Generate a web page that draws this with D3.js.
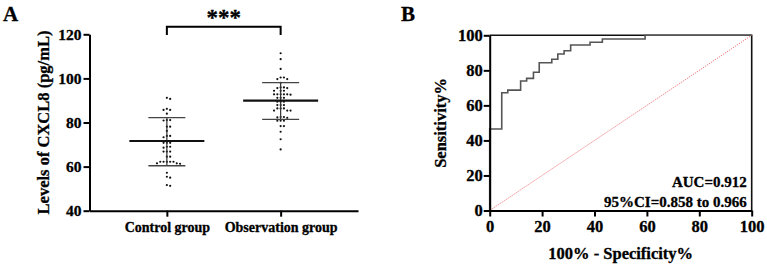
<!DOCTYPE html>
<html>
<head>
<meta charset="utf-8">
<script src="https://cdn.jsdelivr.net/npm/d3@7"></script>
<style>
  body { margin: 0; background: #fff; }
  svg text { font-family: "Liberation Serif", "Times New Roman", serif; font-weight: bold; fill: #000; stroke: #000; stroke-width: 0.3px; }
</style>
</head>
<body>
<div id="chart"></div>
<script>
// panel A: CXCL8 levels by group
const groups = ["Control group", "Observation group"]
const controlValues = [91.2, 90.7, 86.2, 85.7, 85.7, 84.0, 81.1, 81.1, 80.9, 78.1, 78.1, 76.2,
  73.9, 73.9, 73.3, 70.8, 70.8, 70.8, 69.0, 69.0, 68.6, 66.8, 66.8, 66.8, 64.5, 64.5,
  62.2, 62.2, 62.2, 62.2, 62.2, 61.5, 61.5, 61.3, 57.2, 55.4, 55.0, 51.6, 51.3]
const observationValues = [111.4, 108.7, 104.3, 100.4, 100.4, 99.7, 99.7, 98.0, 95.9, 95.9, 95.6, 95.6,
  94.4, 94.4, 94.4, 92.8, 92.8, 92.8, 92.8, 92.8, 92.6, 91.2, 91.2, 91.2, 89.4, 89.4, 89.4,
  87.9, 87.9, 87.9, 86.4, 86.4, 86.4, 85.4, 85.4, 85.4, 82.5, 82.5, 82.3, 82.1,
  80.8, 80.8, 80.8, 78.4, 78.4, 75.8, 72.4, 67.8]
const groupMeans = [71.6, 89.9]
const groupSDlow = [60.4, 81.4]
const groupSDhigh = [82.2, 98.1]
const yTicksA = [40, 60, 80, 100, 120]

// panel B: ROC curve (step corners)
const rocFpr = [0, 0, 4.6, 6.9, 11.8, 14.1, 16.7, 18.9, 23.7, 26.0, 28.4, 30.9, 38.3, 43.0, 59.3, 100]
const rocTpr = [0, 46.5, 67.2, 68.7, 73.9, 75.4, 78.9, 84.3, 86.3, 89.3, 91.2, 94.5, 96.0, 97.9, 100, 100]
const ticksB = [0, 20, 40, 60, 80, 100]
const aucText = ["AUC=0.912", "95%CI=0.858 to 0.966"]

const width = 767, height = 266

const svg = d3.select("#chart").append("svg")
  .attr("width", width)
  .attr("height", height)

// ---------- Panel A ----------
const A = { left: 89.5, right: 358, top: 34.3, bottom: 210.7 }

const xA = d3.scalePoint().domain(groups).range([A.left, A.right]).padding(0.68)
const yA = d3.scaleLinear().domain([40, 120]).range([A.bottom, A.top])

const gA = svg.append("g")

gA.append("g")
  .attr("transform", `translate(${A.left},0)`)
  .call(d3.axisLeft(yA).tickValues(yTicksA).tickSize(6).tickPadding(2).tickSizeOuter(0))
  .call(g => g.selectAll("text").style("font-size", "15.5px"))

gA.append("g")
  .attr("transform", `translate(0,${A.bottom})`)
  .call(d3.axisBottom(xA).tickSize(6).tickPadding(5).tickSizeOuter(0))
  .call(g => g.selectAll("text").style("font-size", "14px"))

gA.selectAll(".domain, .tick line").attr("stroke", "#000").attr("stroke-width", 2)

gA.append("text")
  .attr("transform", `translate(49,${(A.top + A.bottom) / 2}) rotate(-90)`)
  .attr("text-anchor", "middle")
  .style("font-size", "16.5px")
  .text("Levels of CXCL8 (pg/mL)")

// beeswarm offsets computed from the values
function swarm(values, spacing) {
  const placed = []
  const sorted = values.map(v => ({ v, y: yA(v) })).sort((a, b) => a.y - b.y)
  sorted.forEach(p => {
    for (let k = 0; k < 20; k++) {
      const off = (k % 2 === 1 ? 1 : -1) * Math.ceil(k / 2) * spacing
      const clash = placed.some(q => Math.hypot(q.dx - off, q.y - p.y) < spacing * 0.95)
      if (!clash) { p.dx = off; placed.push(p); break }
    }
  })
  return placed
}

const seriesA = [controlValues, observationValues]
seriesA.forEach((vals, i) => {
  const cx = xA(groups[i])
  const pts = swarm(vals, 3.3)
  gA.append("g").selectAll("circle")
    .data(pts)
    .join("circle")
      .attr("cx", d => cx + d.dx)
      .attr("cy", d => d.y)
      .attr("r", 1.1)
      .attr("fill", "#111")

  // SD bar
  gA.append("line")
    .attr("x1", cx).attr("x2", cx)
    .attr("y1", yA(groupSDlow[i])).attr("y2", yA(groupSDhigh[i]))
    .attr("stroke", "#333").attr("stroke-width", 1.2)
  ;[groupSDlow[i], groupSDhigh[i]].forEach(v => {
    gA.append("line")
      .attr("x1", cx - 18.5).attr("x2", cx + 18.5)
      .attr("y1", yA(v)).attr("y2", yA(v))
      .attr("stroke", "#444").attr("stroke-width", 1.4)
  })
  gA.append("line")
    .attr("x1", cx - 37.5).attr("x2", cx + 37.5)
    .attr("y1", yA(groupMeans[i])).attr("y2", yA(groupMeans[i]))
    .attr("stroke", "#111").attr("stroke-width", 2.2)
})

// significance bracket
const x0 = xA(groups[0]), x1 = xA(groups[1])
gA.append("path")
  .attr("d", `M${x0},35V26.7H${x1}V35`)
  .attr("fill", "none").attr("stroke", "#000").attr("stroke-width", 2)
gA.append("text")
  .attr("x", (x0 + x1) / 2).attr("y", 25)
  .attr("text-anchor", "middle")
  .style("font-size", "23px")
  .text("***")

svg.append("text").attr("x", 3).attr("y", 20.5).style("font-size", "21px").text("A")

// ---------- Panel B ----------
const B = { left: 489.7, right: 751.7, top: 35.3, bottom: 210.5 }
const xB = d3.scaleLinear().domain([0, 100]).range([B.left, B.right])
const yB = d3.scaleLinear().domain([0, 100]).range([B.bottom, B.top])

const gB = svg.append("g")

// frame top/right
gB.append("path")
  .attr("d", `M${B.left},${B.top}H${B.right}V${B.bottom}`)
  .attr("fill", "none").attr("stroke", "#111").attr("stroke-width", 1.6)

// reference diagonal
gB.append("line")
  .attr("x1", xB(0)).attr("y1", yB(0)).attr("x2", xB(100)).attr("y2", yB(100))
  .attr("stroke", "#f07070").attr("stroke-width", 1).attr("stroke-dasharray", "1.2,1.2")

// ROC curve
const rocLine = d3.line()
  .x(d => xB(d[0]))
  .y(d => yB(d[1]))
  .curve(d3.curveStepAfter)
gB.append("path")
  .datum(d3.zip(rocFpr, rocTpr))
  .attr("d", rocLine)
  .attr("fill", "none").attr("stroke", "#555").attr("stroke-width", 1.6)

gB.append("g")
  .attr("transform", `translate(0,${B.bottom})`)
  .call(d3.axisBottom(xB).tickValues(ticksB).tickSize(6).tickPadding(4).tickSizeOuter(0))
  .call(g => g.selectAll("text").style("font-size", "16.5px"))

gB.append("g")
  .attr("transform", `translate(${B.left},0)`)
  .call(d3.axisLeft(yB).tickValues(ticksB).tickSize(6).tickPadding(1).tickSizeOuter(0))
  .call(g => g.selectAll("text").style("font-size", "16.5px"))

gB.selectAll(".domain, .tick line").attr("stroke", "#000").attr("stroke-width", 2)

gB.append("text")
  .attr("transform", `translate(446,${(B.top + B.bottom) / 2}) rotate(-90)`)
  .attr("text-anchor", "middle")
  .style("font-size", "16.5px")
  .text("Sensitivity%")

gB.append("text")
  .attr("x", (B.left + B.right) / 2).attr("y", 259)
  .attr("text-anchor", "middle")
  .style("font-size", "16.5px")
  .text("100% - Specificity%")

aucText.forEach((t, i) => {
  gB.append("text")
    .attr("x", 746.7).attr("y", 187 + i * 19.5)
    .attr("text-anchor", "end")
    .style("font-size", "15px")
    .text(t)
})

svg.append("text").attr("x", 401).attr("y", 20.5).style("font-size", "21px").text("B")
</script>
</body>
</html>
